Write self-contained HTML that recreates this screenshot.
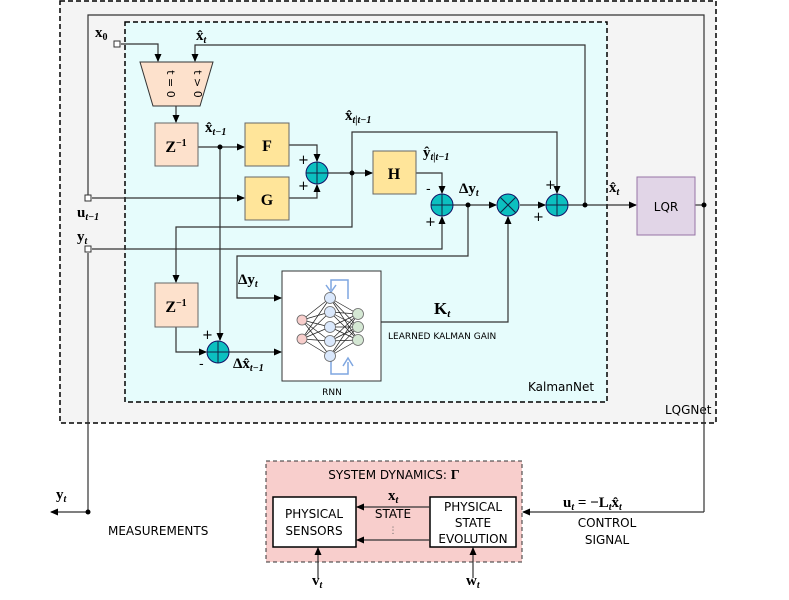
<!DOCTYPE html>
<html><head><meta charset="utf-8"><style>
html,body{margin:0;padding:0;background:#fff}
svg text{font-family:"DejaVu Sans","Liberation Sans",sans-serif}
svg text.m{font-family:"Liberation Serif",serif;font-weight:bold;font-size:15px}
</style></head><body>
<svg width="789" height="595" viewBox="0 0 789 595" xmlns="http://www.w3.org/2000/svg">
<defs><marker id="a" markerWidth="8" markerHeight="8" refX="7" refY="4" orient="auto" markerUnits="userSpaceOnUse"><path d="M0,0.5 L8,4 L0,7.5z" fill="#000"/></marker></defs>
<rect x="60" y="1" width="656" height="422" fill="#f4f4f4" stroke="#000" stroke-width="1.5" stroke-dasharray="5,3"/>
<rect x="125" y="22" width="482" height="380" fill="#e6fcfc" stroke="#000" stroke-width="1.5" stroke-dasharray="5,3"/>
<rect x="266" y="461" width="256" height="101" fill="#f8cecc" stroke="#333" stroke-dasharray="4,3"/>
<rect x="273" y="497" width="83" height="50" fill="#fff" stroke="#000" stroke-width="1.5"/>
<rect x="430" y="497" width="86" height="50" fill="#fff" stroke="#000" stroke-width="1.5"/>
<text x="665" y="414" font-size="12">LQGNet</text>
<text x="528" y="391" font-size="12">KalmanNet</text>
<g fill="none" stroke="#333" stroke-width="1.2">
<polyline points="88,198 88,15 704,15 704,512"/>
<polyline points="121,44 158,44 158,61" marker-end="url(#a)"/>
<polyline points="585,205 585,45 195,45 195,61" marker-end="url(#a)"/>
<polyline points="176,106 176,122" marker-end="url(#a)"/>
<polyline points="198,147 244,147" marker-end="url(#a)"/>
<polyline points="92,198 244,198" marker-end="url(#a)"/>
<polyline points="289,145 317,145 317,161" marker-end="url(#a)"/>
<polyline points="289,198 317,198 317,185" marker-end="url(#a)"/>
<polyline points="328,173 372,173" marker-end="url(#a)"/>
<polyline points="416,173 442,173 442,193" marker-end="url(#a)"/>
<polyline points="92,249 442,249 442,217" marker-end="url(#a)"/>
<polyline points="453,205 496,205" marker-end="url(#a)"/>
<polyline points="468,205 468,256 237,256 237,298 281,298" marker-end="url(#a)"/>
<polyline points="352,173 352,132 557,132 557,193" marker-end="url(#a)"/>
<polyline points="352,173 352,227 176,227 176,282" marker-end="url(#a)"/>
<polyline points="520,205 545,205" marker-end="url(#a)"/>
<polyline points="220,147 220,340" marker-end="url(#a)"/>
<polyline points="176,327 176,352 206,352" marker-end="url(#a)"/>
<polyline points="229,352 281,352" marker-end="url(#a)"/>
<polyline points="381,322 508,322 508,217" marker-end="url(#a)"/>
<polyline points="568,205 636,205" marker-end="url(#a)"/>
<polyline points="695,205 704,205"/>
<polyline points="88,253 88,512 51,512" marker-end="url(#a)"/>
<polyline points="704,512 523,512" marker-end="url(#a)"/>
<polyline points="430,507 357,507" marker-end="url(#a)"/>
<polyline points="430,540 357,540" marker-end="url(#a)"/>
<polyline points="318,578 318,548" marker-end="url(#a)"/>
<polyline points="473,578 473,548" marker-end="url(#a)"/>
</g>
<g fill="#000"><circle cx="220" cy="147" r="2.5"/><circle cx="352" cy="173" r="2.5"/><circle cx="468" cy="205" r="2.5"/><circle cx="585" cy="205" r="2.5"/><circle cx="704" cy="205" r="2.5"/><circle cx="88" cy="512" r="2.5"/></g>
<g fill="#fff" stroke="#333"><rect x="114" y="41" width="6" height="6"/><rect x="85" y="195" width="6" height="6"/><rect x="85" y="246" width="6" height="6"/></g>
<polygon points="140,62 213,62 200,106 153,106" fill="#fde1cc" stroke="#333"/>
<text transform="translate(167,84) rotate(90)" font-size="11" text-anchor="middle" font-family="Liberation Serif">t = 0</text>
<text transform="translate(194,84) rotate(90)" font-size="11" text-anchor="middle" font-family="Liberation Serif">t &gt; 0</text>
<g stroke="#666" stroke-width="1"><rect x="155" y="123" width="43" height="43" fill="#fde1cc"/><rect x="155" y="283" width="43" height="44" fill="#fde1cc"/>
<rect x="245" y="123" width="44" height="43" fill="#ffe59a"/><rect x="245" y="177" width="44" height="43" fill="#ffe59a"/><rect x="373" y="151" width="43" height="43" fill="#ffe59a"/></g>
<text x="176" y="152" class="m" style="font-size:16px" text-anchor="middle">Z<tspan font-size="10" dy="-6">−1</tspan></text>
<text x="176" y="312" class="m" style="font-size:16px" text-anchor="middle">Z<tspan font-size="10" dy="-6">−1</tspan></text>
<text x="267" y="151" class="m" style="font-size:16px" text-anchor="middle">F</text>
<text x="267" y="205" class="m" style="font-size:16px" text-anchor="middle">G</text>
<text x="394" y="179" class="m" style="font-size:16px" text-anchor="middle">H</text>
<g fill="#0cc0c0" stroke="#116" stroke-width="1">
<circle cx="317" cy="173" r="11"/><circle cx="442" cy="205" r="11"/><circle cx="508" cy="205" r="11"/><circle cx="557" cy="205" r="11"/><circle cx="218" cy="352" r="11"/></g>
<g stroke="#124" stroke-width="1">
<path d="M306,173H328M317,162V184M431,205H453M442,194V216M546,205H568M557,194V216M207,352H229M218,341V363M500,197L516,213M516,197L500,213"/></g>
<g font-size="13" font-family="Liberation Sans">
<text x="298" y="164">+</text><text x="298" y="190">+</text><text x="426" y="193">-</text><text x="425" y="226">+</text>
<text x="545" y="189">+</text><text x="533" y="221">+</text><text x="202" y="339">+</text><text x="199" y="368">-</text></g>
<rect x="282" y="271" width="99" height="110" fill="#fff" stroke="#333"/>
<g stroke="#222" stroke-width="0.7">
<path d="M302,320L330,298M302,320L330,312M302,320L330,327M302,320L330,341M302,320L330,356M302,339L330,298M302,339L330,312M302,339L330,327M302,339L330,341M302,339L330,356
M330,298L358,314M330,298L358,327M330,298L358,340M330,312L358,314M330,312L358,327M330,312L358,340M330,327L358,314M330,327L358,327M330,327L358,340M330,341L358,314M330,341L358,327M330,341L358,340M330,356L358,314M330,356L358,327M330,356L358,340"/></g>
<g fill="none" stroke="#7ea6e0" stroke-width="1.5"><path d="M348,299V280H331V290"/><path d="M326,285L331,292L336,285"/><path d="M331,361V374H348V362"/><path d="M343,366L348,358L353,366"/></g>
<g stroke="#666" stroke-width="0.8"><circle cx="302" cy="320" r="5" fill="#f8cecc"/><circle cx="302" cy="339" r="5" fill="#f8cecc"/>
<g fill="#dae8fc"><circle cx="330" cy="298" r="5.5"/><circle cx="330" cy="312" r="5.5"/><circle cx="330" cy="327" r="5.5"/><circle cx="330" cy="341" r="5.5"/><circle cx="330" cy="356" r="5.5"/></g>
<g fill="#d5e8d4"><circle cx="358" cy="314" r="5.5"/><circle cx="358" cy="327" r="5.5"/><circle cx="358" cy="340" r="5.5"/></g></g>
<text x="332" y="395" font-size="9" text-anchor="middle">RNN</text>
<text x="388" y="339" font-size="9">LEARNED KALMAN GAIN</text>
<rect x="637" y="177" width="58" height="58" fill="#e1d5e7" stroke="#9673a6"/>
<text x="666" y="211" font-size="12" text-anchor="middle">LQR</text>
<text class="m" x="95" y="37">x<tspan font-size="10" dy="3">0</tspan></text>
<text class="m" x="196" y="40">x̂<tspan font-size="10" dy="3" font-style="italic">t</tspan></text>
<text class="m" x="205" y="132">x̂<tspan font-size="10" dy="3" font-style="italic">t−1</tspan></text>
<text class="m" x="345" y="120">x̂<tspan font-size="10" dy="3" font-style="italic">t|t−1</tspan></text>
<text class="m" x="423" y="157">ŷ<tspan font-size="10" dy="3" font-style="italic">t|t−1</tspan></text>
<text class="m" x="459" y="193">Δy<tspan font-size="10" dy="3" font-style="italic">t</tspan></text>
<text class="m" x="77" y="217">u<tspan font-size="10" dy="3" font-style="italic">t−1</tspan></text>
<text class="m" x="77" y="241">y<tspan font-size="10" dy="3" font-style="italic">t</tspan></text>
<text class="m" x="238" y="284">Δy<tspan font-size="10" dy="3" font-style="italic">t</tspan></text>
<text class="m" x="233" y="368">Δx̂<tspan font-size="10" dy="3" font-style="italic">t−1</tspan></text>
<text class="m" x="434" y="314" style="font-size:17px">K<tspan font-size="11" dy="3" font-style="italic">t</tspan></text>
<text class="m" x="609" y="192">x̂<tspan font-size="10" dy="3" font-style="italic">t</tspan></text>
<text class="m" x="56" y="499">y<tspan font-size="10" dy="3" font-style="italic">t</tspan></text>
<text class="m" x="563" y="507">u<tspan font-size="10" dy="3" font-style="italic">t</tspan><tspan dy="-3"> = −L</tspan><tspan font-size="10" dy="3" font-style="italic">t</tspan><tspan dy="-3">x̂</tspan><tspan font-size="10" dy="3" font-style="italic">t</tspan></text>
<text class="m" x="388" y="500">x<tspan font-size="10" dy="3" font-style="italic">t</tspan></text>
<text class="m" x="312" y="585">v<tspan font-size="10" dy="3" font-style="italic">t</tspan></text>
<text class="m" x="466" y="585">w<tspan font-size="10" dy="3" font-style="italic">t</tspan></text>
<text x="108" y="535" font-size="12">MEASUREMENTS</text>
<text x="607" y="527" font-size="12" text-anchor="middle">CONTROL</text>
<text x="607" y="544" font-size="12" text-anchor="middle">SIGNAL</text>
<text x="394" y="479" font-size="12" text-anchor="middle">SYSTEM DYNAMICS: <tspan font-family="Liberation Serif" font-weight="bold" font-size="14">Γ</tspan></text>
<text x="314" y="518" font-size="12" text-anchor="middle">PHYSICAL</text>
<text x="314" y="535" font-size="12" text-anchor="middle">SENSORS</text>
<text x="473" y="511" font-size="12" text-anchor="middle">PHYSICAL</text>
<text x="473" y="527" font-size="12" text-anchor="middle">STATE</text>
<text x="473" y="543" font-size="12" text-anchor="middle">EVOLUTION</text>
<text x="393" y="518" font-size="12" text-anchor="middle">STATE</text>
<text x="393" y="533" font-size="9" text-anchor="middle" fill="#666">⋮</text>
</svg>
</body></html>
